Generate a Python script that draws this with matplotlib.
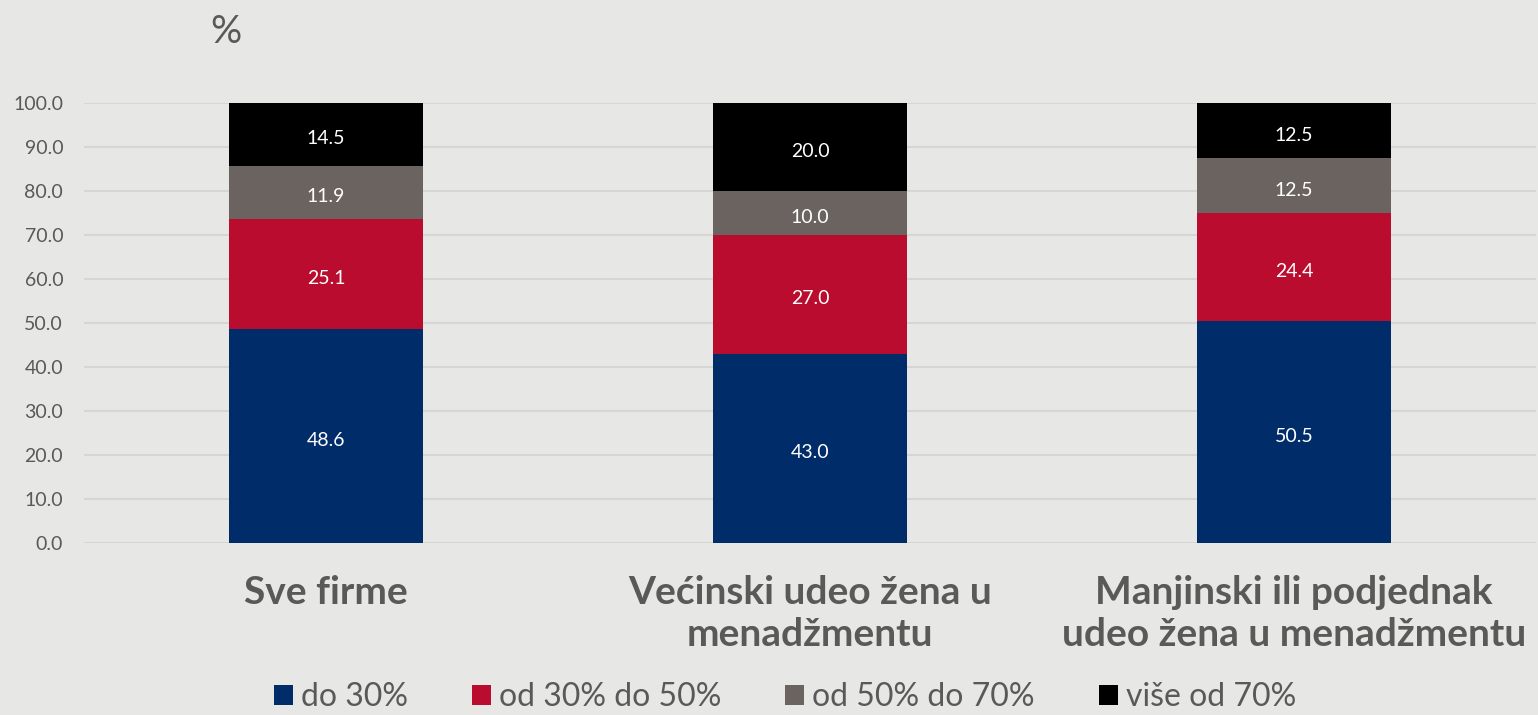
import matplotlib
matplotlib.use("Agg")
import matplotlib.pyplot as plt
import numpy as np

categories = ["Sve firme", "Većinski udeo žena u\nmenadžmentu",
              "Manjinski ili podjednak\nudeo žena u menadžmentu"]
series = ["do 30%", "od 30% do 50%", "od 50% do 70%", "više od 70%"]
do30 = [48.6, 43.0, 50.5]
od30do50 = [25.1, 27.0, 24.4]
od50do70 = [11.9, 10.0, 12.5]
vise70 = [14.5, 20.0, 12.5]
colors = ["#002d6a", "#ba0c2f", "#6b6360", "#000000"]

bg = "#e7e7e5"
txt = "#595959"
plt.rcParams["font.family"] = ["Lato", "DejaVu Sans"]

fig = plt.figure(figsize=(15.38, 7.15), dpi=100, facecolor=bg)
ax = fig.add_axes([84 / 1538, 172 / 715, 1452 / 1538, 440 / 715])
ax.set_facecolor(bg)

x = np.arange(len(categories))
bottom = np.zeros(len(categories))
for name, vals, c in zip(series, [do30, od30do50, od50do70, vise70], colors):
    bars = ax.bar(x, vals, 0.4, bottom=bottom, color=c, label=name, zorder=3)
    for b, v in zip(bars, vals):
        ax.annotate(f"{v:.1f}", (b.get_x() + b.get_width() / 2, b.get_y() + v / 2),
                    xytext=(0, -3), textcoords="offset points",
                    ha="center", va="center", color="white", fontsize=14, zorder=4)
    bottom += vals

ax.set_xlim(-0.5, 2.5)
ax.set_ylim(0, 100)
ax.set_yticks(np.arange(0, 101, 10))
ax.set_yticklabels([f"{v:.1f}" for v in np.arange(0, 101, 10)], fontsize=14, color=txt)
ax.set_xticks(x)
ax.set_xticklabels(categories, fontsize=28, fontweight="bold", color=txt,
                   linespacing=1.25)
ax.tick_params(axis="x", length=0, pad=23)
ax.tick_params(axis="y", length=0, pad=15)
ax.grid(axis="y", color="#d6d6d4", linewidth=1.5, zorder=0)
for s in ax.spines.values():
    s.set_visible(False)

fig.text(226 / 1538, 1 - 32 / 715, "%", fontsize=28, color=txt,
         ha="center", va="center")

leg = fig.legend(loc="center", bbox_to_anchor=(785 / 1538, 1 - 697 / 715),
                 ncol=4, frameon=False, fontsize=23, handlelength=0.6,
                 handleheight=0.6, handletextpad=0.25, columnspacing=2.0)
for t in leg.get_texts():
    t.set_color(txt)

fig.savefig("out.png", dpi=100, facecolor=bg)
